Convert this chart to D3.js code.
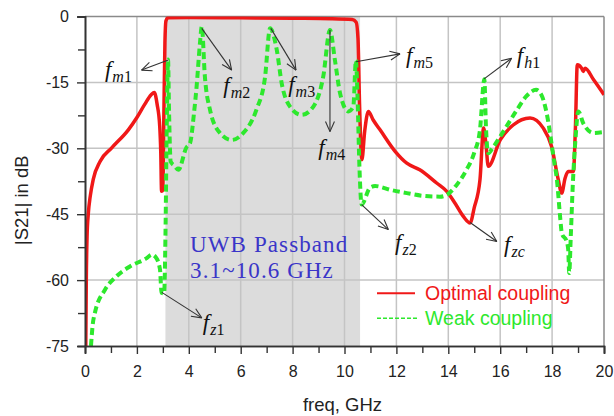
<!DOCTYPE html>
<html><head><meta charset="utf-8">
<script src="https://cdn.jsdelivr.net/npm/d3@7"></script>
<style>
body{margin:0;background:#fff;}
svg{display:block;}
</style></head>
<body><div id="chart"></div>
<script>
// ---- data (GHz, dB) ----
const optimalFreq = [0.03,0.05,0.08,0.13,0.2,0.32,0.58,1.03,1.67,2.0,2.3,2.55,2.67,2.78,2.88,2.92,2.95,3.0,3.04,3.08,3.12,3.2,4,6,8,9.5,10.3,10.45,10.52,10.58,10.67,10.78,10.92,11.1,11.37,11.95,12.4,12.9,13.55,13.94,14.26,14.58,14.84,15.0,15.22,15.36,15.45,15.54,16,16.5,17.15,17.66,17.98,18.24,18.37,18.5,18.62,18.82,18.9,18.97,19.14,19.2,19.27,19.6,20];
const optimalDB   = [-75,-60,-50,-44.7,-41,-37,-33,-29.9,-25.8,-23,-20,-17.8,-17.3,-20,-25,-31,-39.8,-39.5,-22,-6,-1,-0.3,-0.2,-0.3,-0.4,-0.5,-0.7,-1.3,-5,-20,-32.6,-26,-21.6,-23.5,-25.8,-30.7,-33.4,-34.9,-37.9,-39.8,-42.5,-45.5,-47,-43.5,-37.2,-25.4,-29,-34.1,-28.1,-24.7,-23.1,-25.4,-29.6,-37.2,-40.2,-36.8,-35.3,-35.3,-25,-11,-11.8,-12.5,-11.8,-14.4,-17.8];

const weakFreq = [0.23,0.3,0.38,0.77,1.22,1.73,2.38,2.57,2.75,2.89,2.95,3.05,3.1,3.15,3.2,3.24,3.3,3.45,3.6,3.9,4.05,4.2,4.3,4.43,4.5,4.62,4.82,5.2,5.65,6.1,6.6,6.94,7.13,7.39,7.58,7.9,8.35,8.8,9.18,9.44,9.63,9.83,10.15,10.34,10.44,10.5,10.58,10.66,10.98,11.18,11.8,12.4,13.0,13.68,13.94,14.3,14.7,15.0,15.22,15.39,15.45,15.54,15.7,16,16.64,17.0,17.38,17.6,17.79,18.05,18.2,18.3,18.38,18.55,18.62,18.66,18.72,18.8,18.9,19.01,19.2,19.59,20];
const weakDB   = [-75,-70,-67.5,-62.2,-59.1,-56.9,-55,-54.2,-55,-57.6,-62.9,-63,-50,-25,-9.8,-22,-33,-34,-34.9,-29.9,-28.8,-22,-16,-6.1,-2.3,-13.7,-21.3,-26.5,-28.1,-26.5,-21.3,-13.7,-2.7,-7.6,-15.2,-20.5,-22.4,-20.5,-13.7,-3.1,-9.9,-17.5,-21.6,-20.5,-10,-18,-35,-42.8,-39,-38.6,-39.5,-40.2,-40.8,-41,-40.6,-38.5,-34.9,-31,-25.8,-14.3,-25,-31.1,-30,-27.3,-21.3,-18.2,-16.7,-18,-22,-31.9,-38,-45,-49.5,-51,-53,-58.4,-50,-38,-28,-21.6,-24.3,-26.5,-26.3];

const xMajorTicks = [0,2,4,6,8,10,12,14,16,18,20];
const xMinorTicks = [1,3,5,7,9,11,13,15,17,19];
const yMajorTicks = [0,-15,-30,-45,-60,-75];
const yMinorTicks = [-7.5,-22.5,-37.5,-52.5,-67.5];
const passband = [3.1, 10.6];
const seriesNames = ["Optimal coupling","Weak coupling"];
const bandLines = ["UWB Passband","3.1~10.6 GHz"];

// annotations: [sub letter, sub suffix, tailX, tailY, headX, headY, labelX, labelY]
const annotations = [
  ["m","1", 3.21,-9.9, 2.18,-12.2, 0.77,-13.7],
  ["m","2", 4.5,-2.7, 5.65,-12.2, 5.33,-17.4],
  ["m","3", 7.16,-2.7, 8.13,-12.2, 7.83,-17.1],
  ["m","4", 9.44,-3.1, 9.44,-26.2, 8.99,-31.5],
  ["m","5", 10.44,-10.3, 12.14,-8.5, 12.37,-10.6],
  ["h","1", 15.38,-14.2, 16.44,-9.5, 16.64,-10.6],
  ["z","1", 2.96,-62.8, 4.5,-68.6, 4.54,-71.3],
  ["z","2", 10.66,-42.8, 11.69,-48.5, 11.95,-53.1],
  ["z","c", 14.84,-46.9, 15.87,-51.2, 16.15,-53.5]
];

// ---- layout ----
const W = 614, H = 416;
const m = {l:85, t:16.5};
const pw = 604 - m.l, ph = 346 - m.t;

const svg = d3.select("#chart").append("svg").attr("width",W).attr("height",H);
const g = svg.append("g").attr("transform",`translate(${m.l},${m.t})`);

const x = d3.scaleLinear().domain([0,20]).range([0,pw]);
const y = d3.scaleLinear().domain([-75,0]).range([ph,0]);

svg.append("defs").append("clipPath").attr("id","clip")
  .append("rect").attr("x",0).attr("y",0).attr("width",pw).attr("height",ph);

// passband shading
g.append("rect").attr("x",x(passband[0])).attr("y",0)
  .attr("width",x(passband[1])-x(passband[0])).attr("height",ph)
  .attr("fill","#dcdcdc");

// grid
g.append("g").selectAll("line").data(xMajorTicks.slice(1,-1)).join("line")
  .attr("x1",d=>x(d)).attr("x2",d=>x(d)).attr("y1",0).attr("y2",ph)
  .attr("stroke","#c4c4c4").attr("stroke-width",1.5);
g.append("g").selectAll("line").data(yMajorTicks.slice(1,-1)).join("line")
  .attr("y1",d=>y(d)).attr("y2",d=>y(d)).attr("x1",0).attr("x2",pw)
  .attr("stroke","#c4c4c4").attr("stroke-width",1.5);

// border top/right
g.append("line").attr("x1",0).attr("x2",pw).attr("y1",0).attr("y2",0).attr("stroke","#8a8a8a").attr("stroke-width",1.5);
g.append("line").attr("x1",pw).attr("x2",pw).attr("y1",0).attr("y2",ph).attr("stroke","#8a8a8a").attr("stroke-width",1.5);

// curves
const line = d3.line().x(d=>x(d[0])).y(d=>y(d[1])).curve(d3.curveMonotoneX);
const optimal = optimalFreq.map((f,i)=>[f,optimalDB[i]]);
const weak = weakFreq.map((f,i)=>[f,weakDB[i]]);
const curves = g.append("g").attr("clip-path","url(#clip)");
curves.append("path").datum(optimal).attr("d",line)
  .attr("fill","none").attr("stroke","#f01818").attr("stroke-width",3.5).attr("stroke-linejoin","round");
curves.append("path").datum(weak).attr("d",line)
  .attr("fill","none").attr("stroke","#2de82d").attr("stroke-width",4).attr("stroke-dasharray","7,4");

// axes
const axFont = "'Liberation Sans', Arial, sans-serif";
const yAx = g.append("g").call(d3.axisLeft(y).tickValues(yMajorTicks).tickSize(8).tickPadding(8));
const yAxMin = g.append("g").call(d3.axisLeft(y).tickValues(yMinorTicks).tickSize(7).tickFormat(""));
const xAx = g.append("g").attr("transform",`translate(0,${ph})`)
  .call(d3.axisBottom(x).tickValues(xMajorTicks).tickSize(8).tickPadding(12));
const xAxMin = g.append("g").attr("transform",`translate(0,${ph})`)
  .call(d3.axisBottom(x).tickValues(xMinorTicks).tickSize(7).tickFormat(""));
[yAx,yAxMin,xAx,xAxMin].forEach(a=>{
  a.select(".domain").attr("stroke","#333").attr("stroke-width",1.6);
  a.selectAll(".tick line").attr("stroke","#333").attr("stroke-width",1.4);
  a.selectAll("text").attr("font-family",axFont).attr("font-size",16).attr("fill","#222");
});
yAx.selectAll("text").text(d=>d===0?"0":"-"+Math.abs(d));

// axis titles
svg.append("text").attr("x",m.l+pw/2-2).attr("y",411)
  .attr("text-anchor","middle").attr("font-family",axFont).attr("font-size",18.5).attr("fill","#222")
  .text("freq, GHz");
svg.append("text").attr("transform",`translate(28,${m.t+ph/2+19}) rotate(-90)`)
  .attr("text-anchor","middle").attr("font-family",axFont).attr("font-size",18.5).attr("fill","#222")
  .text("|S21| in dB");

// UWB text
const serif = "'Liberation Serif','Times New Roman',serif";
g.selectAll(".band").data(bandLines).join("text").attr("class","band")
  .attr("x",x(4.05)).attr("y",(d,i)=>y(-53.7)+i*26)
  .attr("font-family",serif).attr("font-size",23).attr("letter-spacing",1.1)
  .attr("fill","#3a35c8").text(d=>d);

// annotations
const ann = g.append("g");
annotations.forEach(a=>{
  const [sub1,sub2,tx,ty,hx,hy,lx,ly] = a;
  const x1=x(tx),y1=y(ty),x2=x(hx),y2=y(hy);
  ann.append("line").attr("x1",x1).attr("y1",y1).attr("x2",x2).attr("y2",y2)
    .attr("stroke","#333").attr("stroke-width",1.1);
  const ang = Math.atan2(y2-y1,x2-x1), L=11, s=0.42;
  [ang+Math.PI-s, ang+Math.PI+s].forEach(t=>{
    ann.append("line").attr("x1",x2).attr("y1",y2)
      .attr("x2",x2+L*Math.cos(t)).attr("y2",y2+L*Math.sin(t))
      .attr("stroke","#333").attr("stroke-width",1.1);
  });
  const t = ann.append("text").attr("x",x(lx)).attr("y",y(ly)).attr("font-family",serif).attr("fill","#111");
  t.append("tspan").attr("font-size",23).attr("font-style","italic").text("f");
  const sub = t.append("tspan").attr("dy",5).attr("dx",1).attr("font-size",16);
  sub.append("tspan").attr("font-style","italic").text(sub1);
  sub.append("tspan").attr("font-style",/\d/.test(sub2)?"normal":"italic").text(sub2);
});

// legend
const lg = svg.append("g");
lg.append("line").attr("x1",377).attr("x2",415).attr("y1",293.3).attr("y2",293.3)
  .attr("stroke","#f01818").attr("stroke-width",2);
lg.append("text").attr("x",425).attr("y",300).attr("font-family",axFont).attr("font-size",19.5)
  .attr("fill","#f01818").text(seriesNames[0]);
lg.append("line").attr("x1",377).attr("x2",417).attr("y1",318.3).attr("y2",318.3)
  .attr("stroke","#2de82d").attr("stroke-width",1.6).attr("stroke-dasharray","4,2");
lg.append("text").attr("x",425).attr("y",325).attr("font-family",axFont).attr("font-size",19.5)
  .attr("fill","#2de82d").text(seriesNames[1]);
</script>
</body></html>
